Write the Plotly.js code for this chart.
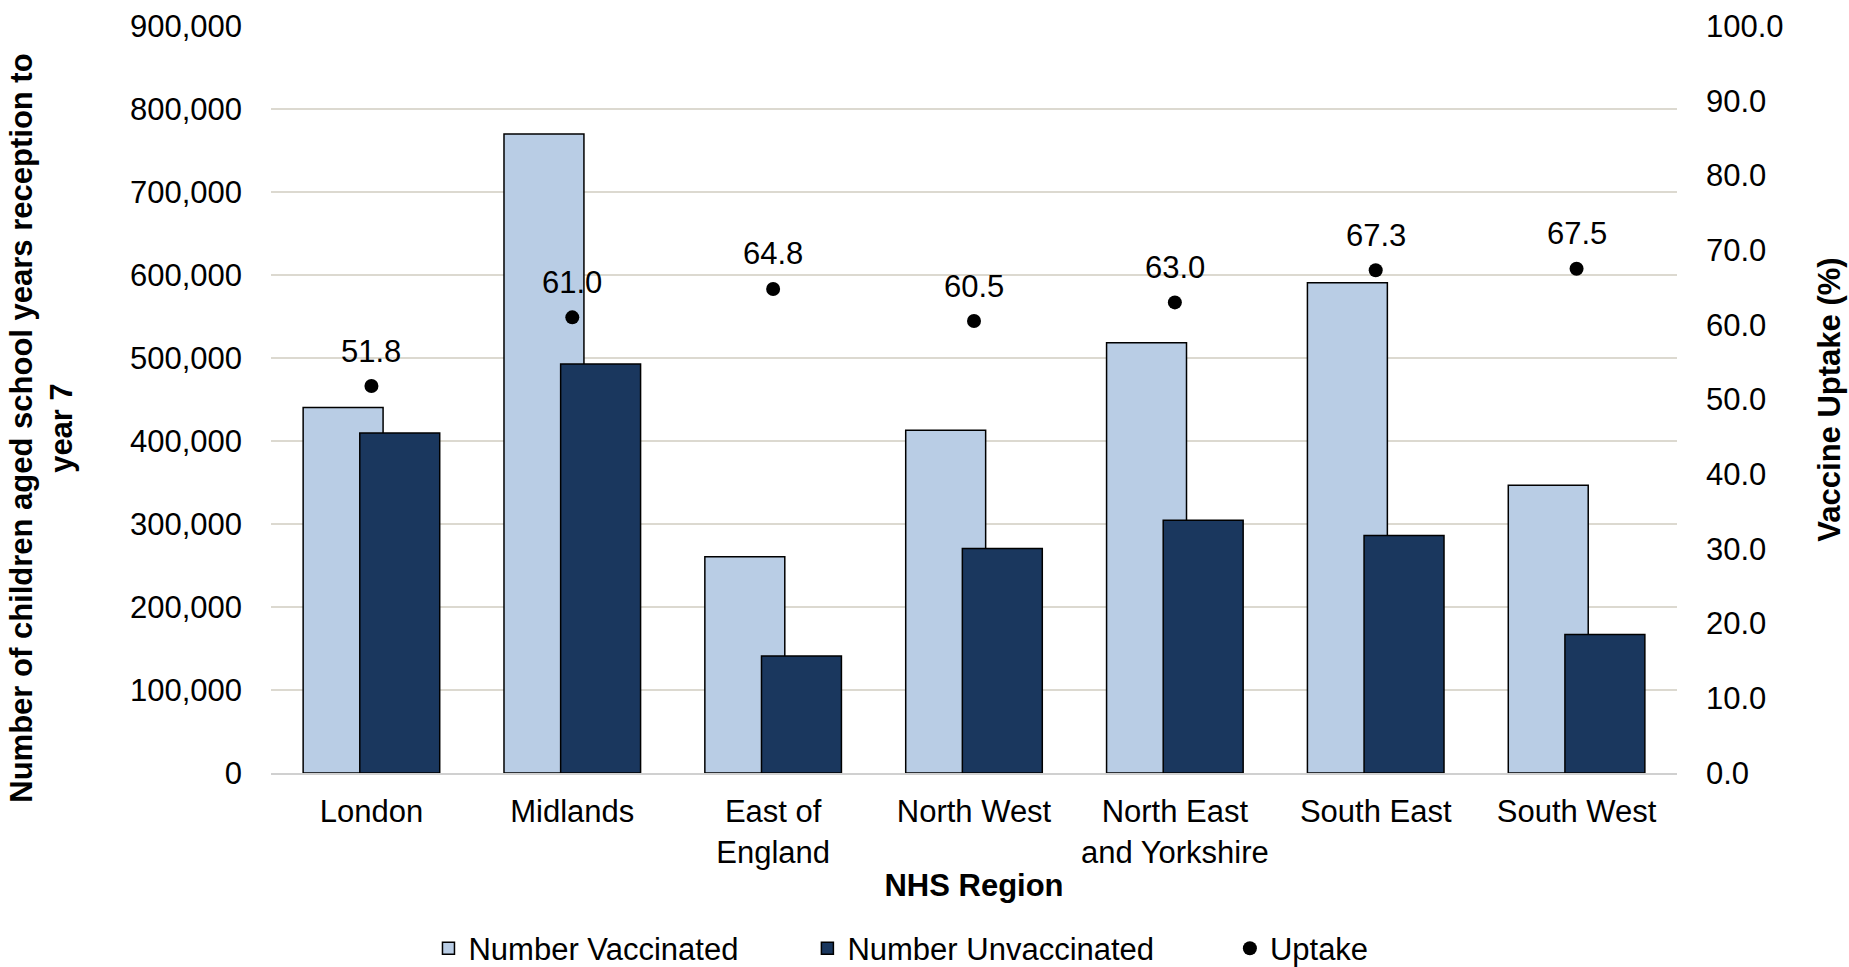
<!DOCTYPE html>
<html>
<head>
<meta charset="utf-8">
<script src="https://cdn.plot.ly/plotly-3.0.1.min.js"></script>
<style>
  html, body { margin: 0; padding: 0; background: #ffffff; }
  #chart { width: 1849px; height: 967px; }
</style>
</head>
<body>
<div id="chart"></div>
<script>
// ---- Data ----
const regions = ["London", "Midlands", "East of<br>England", "North West", "North East<br>and Yorkshire", "South East", "South West"];
const vaccinated   = [440400, 770000, 260500, 413000, 518500, 590800, 346800];
const unvaccinated = [409600, 492800, 141000, 270500, 304400, 286000, 166800];
const uptake       = [51.8, 61.0, 64.8, 60.5, 63.0, 67.3, 67.5];

const leftTicks  = [0, 100000, 200000, 300000, 400000, 500000, 600000, 700000, 800000, 900000];
const rightTicks = [0, 10, 20, 30, 40, 50, 60, 70, 80, 90, 100];

const FONT = "Liberation Sans, Arial, Helvetica, sans-serif";
const FS = 31;

const traces = [
  {
    type: "bar", name: "Number Vaccinated", x: regions, y: vaccinated,
    width: 0.398, offset: -0.34,
    marker: { color: "#b9cde5", line: { color: "#000000", width: 1.5 } },
    legend: "legend", hoverinfo: "x+y"
  },
  {
    type: "bar", name: "Number Unvaccinated", x: regions, y: unvaccinated,
    width: 0.398, offset: -0.058,
    marker: { color: "#1a375e", line: { color: "#000000", width: 1.5 } },
    legend: "legend2", hoverinfo: "x+y"
  },
  {
    type: "scatter", mode: "markers", name: "Uptake", x: regions, y: uptake,
    yaxis: "y2",
    marker: { color: "#000000", size: 14 },
    cliponaxis: false, legend: "legend3"
  }
];

// data labels for the uptake points
const uptakeLabels = uptake.map((v, i) => ({
  x: regions[i], y: v, xref: "x", yref: "y2",
  text: v.toFixed(1), showarrow: false,
  xanchor: "center", yanchor: "middle", yshift: 35,
  font: { family: FONT, size: FS, color: "#000000" }
}));

const legendBase = {
  orientation: "h", y: -0.235, yanchor: "middle", xanchor: "left",
  font: { family: FONT, size: FS, color: "#000000" },
  bgcolor: "rgba(0,0,0,0)", borderwidth: 0
};

const layout = {
  width: 1849, height: 967,
  margin: { l: 271, r: 172, t: 26, b: 193.5, pad: 0, autoexpand: false },
  paper_bgcolor: "#ffffff", plot_bgcolor: "#ffffff",
  font: { family: FONT, size: FS, color: "#000000" },
  barmode: "overlay",
  showlegend: true,
  legend:  Object.assign({}, legendBase, { x: 0.112 }),
  legend2: Object.assign({}, legendBase, { x: 0.3815 }),
  legend3: Object.assign({}, legendBase, { x: 0.682 }),
  xaxis: {
    type: "category", automargin: false,
    showgrid: false, zeroline: false,
    showline: true, linecolor: "#d0d0d0", linewidth: 2,
    ticks: "", ticklabelstandoff: 10,
    tickfont: { family: FONT, size: FS, color: "#000000" },
    title: { text: "NHS Region", font: { family: FONT, size: FS, color: "#000000", weight: "bold" }, standoff: 6 }
  },
  yaxis: {
    range: [0, 900000], tickvals: leftTicks, tickformat: ",", automargin: false,
    showgrid: true, gridcolor: "#dcd9d0", gridwidth: 2,
    zeroline: false, showline: false, ticks: "", ticklabelstandoff: 28,
    tickfont: { family: FONT, size: FS, color: "#000000" }
  },
  yaxis2: {
    overlaying: "y", side: "right", automargin: false,
    range: [0, 100], tickvals: rightTicks, tickformat: ".1f",
    showgrid: false, zeroline: false, showline: false, ticks: "", ticklabelstandoff: 28,
    tickfont: { family: FONT, size: FS, color: "#000000" },
    title: { text: "Vaccine Uptake (%)", font: { family: FONT, size: FS, color: "#000000", weight: "bold" }, standoff: 35 }
  },
  annotations: [
    {
      xref: "paper", yref: "paper", x: -0.163, y: 0.462,
      xanchor: "center", yanchor: "middle", textangle: -90, showarrow: false,
      text: "Number of children aged school years reception to<br>year 7",
      font: { family: FONT, size: FS, color: "#000000", weight: "bold" }
    }
  ].concat(uptakeLabels)
};

Plotly.newPlot("chart", traces, layout, { displayModeBar: false, responsive: false });
</script>
</body>
</html>
